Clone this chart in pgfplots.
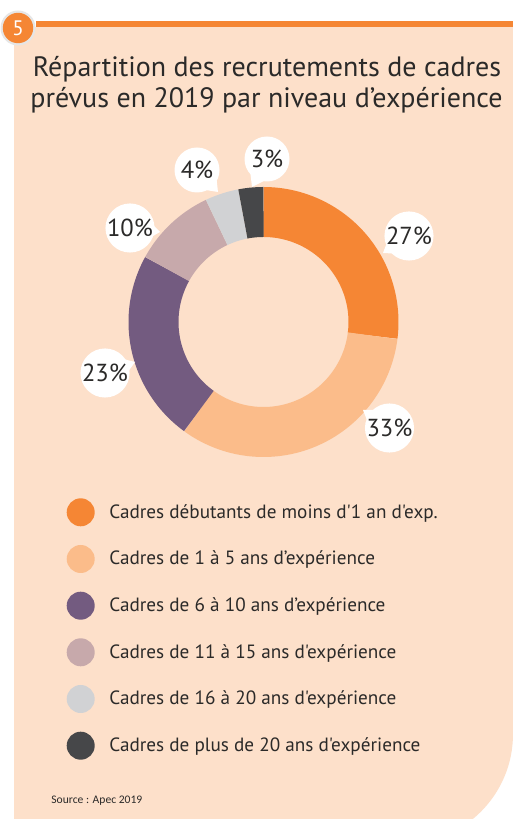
\documentclass[border=0pt]{standalone}
\usepackage{pgfplots}
\pgfplotsset{compat=1.18}
\usepackage{pgfplotstable}
\usepackage{fontspec}
\newfontfamily\ptsans[Ligatures=TeXOff]{PT Sans}
\newfontfamily\lblfont{PT Sans}
\newfontfamily\srcfont{Carlito}
\definecolor{cA}{HTML}{F58634}
\definecolor{cB}{HTML}{FBBC8A}
\definecolor{cC}{HTML}{735B80}
\definecolor{cD}{HTML}{C7A9AB}
\definecolor{cE}{HTML}{D1D2D4}
\definecolor{cF}{HTML}{464749}
\definecolor{peach}{HTML}{FDE0CA}
\definecolor{txt}{HTML}{2B2A29}
\definecolor{badgeborder}{HTML}{E6E6E6}

% v = share (%), lx/ly = label bubble position, tx/ty = bubble tail tip (px from centre)
\pgfplotstableread{
v  lx     ly    tx     ty    col
27 145.5  86    119.5  69    cA
33 126   -106   99.5  -88    cB
23 -158.5 -51  -128.5 -40    cC
10 -133.5 94   -103.5  90    cD
4  -66.5  152  -45.5   130   cE
3   3.5   163  -11.5   135   cF
}\donut

\begin{document}
\begin{tikzpicture}[x=0.5pt,y=0.5pt]
\useasboundingbox (0,0) rectangle (513,819);
\fill[white] (0,0) rectangle (513,819);
\begin{scope}
\clip (0,0) rectangle (513,819);
\fill[peach] (14,792) -- (14,-25) -- (403,-25) arc[start angle=-90, end angle=0, radius=55pt] -- (513,792) -- cycle;
\end{scope}
\fill[cA] (36,792) rectangle (513,798);
\fill[badgeborder] (18,791) circle[radius=8.75pt];
\fill[cA] (18,791) circle[radius=7.6pt];
\node[text=white, font={\lblfont\fontsize{10.5}{12}\selectfont}] at (18,791) {5};

\node[anchor=base, text=txt, font={\ptsans\fontsize{14}{16}\selectfont}] at (267,742) {Répartition des recrutements de cadres};
\node[anchor=base, text=txt, font={\ptsans\fontsize{14}{16}\selectfont}] at (266.5,711) {prévus en 2019 par niveau d’expérience};

% compute angles
\xdef\cum{0}
\foreach \i in {0,...,5}{%
  \pgfplotstablegetelem{\i}{v}\of\donut \xdef\curv{\pgfplotsretval}%
  \pgfplotstablegetelem{\i}{lx}\of\donut \xdef\curlx{\pgfplotsretval}%
  \pgfplotstablegetelem{\i}{ly}\of\donut \xdef\curly{\pgfplotsretval}%
  \pgfplotstablegetelem{\i}{tx}\of\donut \xdef\curtx{\pgfplotsretval}%
  \pgfplotstablegetelem{\i}{ty}\of\donut \xdef\curty{\pgfplotsretval}%
  \pgfplotstablegetelem{\i}{col}\of\donut \xdef\curcol{\pgfplotsretval}%
  \pgfmathsetmacro\myA{90-3.6*\cum}%
  \pgfmathsetmacro\myN{\cum+\curv}%
  \pgfmathsetmacro\myB{90-3.6*\myN}%
  \pgfmathsetmacro\myP{atan2(\curty-\curly,\curtx-\curlx)}%
  \pgfmathsetmacro\bax{\curlx+19*cos(\myP+38)}%
  \pgfmathsetmacro\bay{\curly+19*sin(\myP+38)}%
  \pgfmathsetmacro\bbx{\curlx+19*cos(\myP-38)}%
  \pgfmathsetmacro\bby{\curly+19*sin(\myP-38)}%
  \expandafter\xdef\csname sa\i\endcsname{\myA}%
  \expandafter\xdef\csname sb\i\endcsname{\myB}%
  \expandafter\xdef\csname val\i\endcsname{\curv}%
  \expandafter\xdef\csname lx\i\endcsname{\curlx}%
  \expandafter\xdef\csname ly\i\endcsname{\curly}%
  \expandafter\xdef\csname tx\i\endcsname{\curtx}%
  \expandafter\xdef\csname ty\i\endcsname{\curty}%
  \expandafter\xdef\csname bax\i\endcsname{\bax}%
  \expandafter\xdef\csname bay\i\endcsname{\bay}%
  \expandafter\xdef\csname bbx\i\endcsname{\bbx}%
  \expandafter\xdef\csname bby\i\endcsname{\bby}%
  \expandafter\xdef\csname col\i\endcsname{\curcol}%
  \xdef\cum{\myN}%
}

\begin{axis}[at={(263.5,497)}, anchor=center, hide axis, scale only axis,
  width=200pt, height=200pt, xmin=-200, xmax=200, ymin=-200, ymax=200, clip=false]
\pgfplotsinvokeforeach{0,...,5}{%
  \edef\doplot{\noexpand\addplot[draw=\csname col#1\endcsname, line width=25pt, line cap=butt,
     domain=\csname sb#1\endcsname:\csname sa#1\endcsname, samples=90]
     ({110*cos(x)},{110*sin(x)});}%
  \doplot
}
\pgfplotsinvokeforeach{0,...,5}{%
  \fill[white] (axis cs:\csname tx#1\endcsname,\csname ty#1\endcsname) -- (axis cs:\csname bax#1\endcsname,\csname bay#1\endcsname) -- (axis cs:\csname lx#1\endcsname,\csname ly#1\endcsname) -- (axis cs:\csname bbx#1\endcsname,\csname bby#1\endcsname) -- cycle;
  \node[circle, fill=white, minimum size=22.5pt, inner sep=0pt, text=txt,
    font={\lblfont\fontsize{12.3}{12}\selectfont}]
    at (axis cs:\csname lx#1\endcsname,\csname ly#1\endcsname) {\csname val#1\endcsname\%};
}
\end{axis}

% legend
\foreach \yc/\c/\t in {306.7/cA/{Cadres débutants de moins d'1 an d'exp.},
                       260/cB/{Cadres de 1 à 5 ans d’expérience},
                       213.3/cC/{Cadres de 6 à 10 ans d’expérience},
                       166.7/cD/{Cadres de 11 à 15 ans d'expérience},
                       120/cE/{Cadres de 16 à 20 ans d'expérience},
                       73.3/cF/{Cadres de plus de 20 ans d'expérience}}{
  \fill[\c] (80.7,\yc) circle[radius=7pt];
  \node[anchor=base west, inner sep=0pt, text=txt, font={\ptsans\fontsize{9.6}{11}\selectfont}] at (109,\yc-6) {\t};
}
\node[anchor=base west, inner sep=0pt, text=txt, font={\srcfont\fontsize{5.8}{7}\selectfont}] at (51,16) {Source : Apec 2019};
\end{tikzpicture}
\end{document}
